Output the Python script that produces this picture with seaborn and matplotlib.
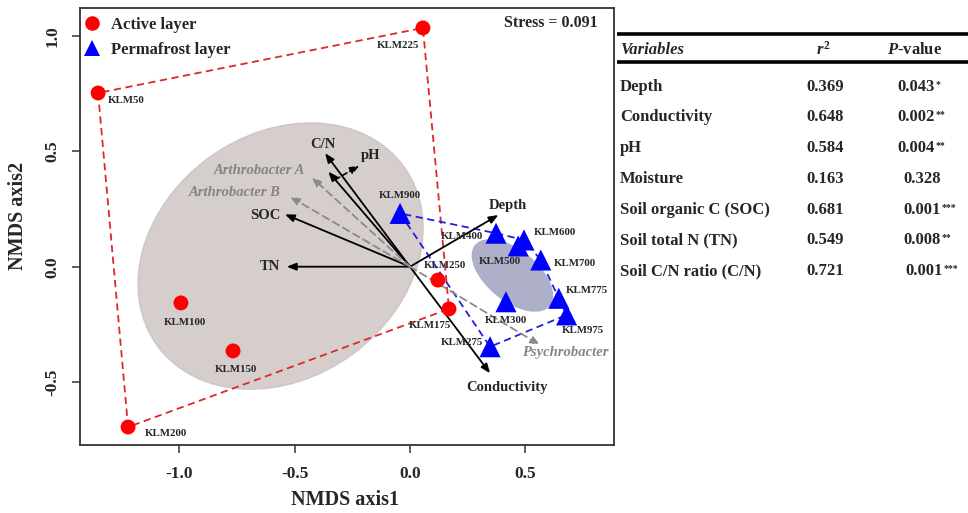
import numpy as np
import pandas as pd
import matplotlib
matplotlib.use('Agg')
import matplotlib.pyplot as plt
import seaborn as sns
from matplotlib.patches import Ellipse
from matplotlib.lines import Line2D
from matplotlib.transforms import offset_copy

# ---------------- data ----------------
active_sites = ['KLM50', 'KLM100', 'KLM150', 'KLM175', 'KLM200', 'KLM225', 'KLM250']
active_x = [-1.352, -0.993, -0.767, 0.169, -1.222, 0.056, 0.121]
active_y = [0.753, -0.157, -0.365, -0.183, -0.695, 1.035, -0.058]

perma_sites = ['KLM275', 'KLM300', 'KLM400', 'KLM500', 'KLM600', 'KLM700', 'KLM775', 'KLM900', 'KLM975']
perma_x = [0.347, 0.416, 0.373, 0.469, 0.494, 0.567, 0.645, -0.043, 0.679]
perma_y = [-0.347, -0.152, 0.145, 0.090, 0.116, 0.029, -0.137, 0.231, -0.209]

env_vars = ['Depth', 'Conductivity', 'pH', 'SOC', 'TN', 'C/N']
env_x = [0.383, 0.347, -0.354, -0.542, -0.534, -0.368]
env_y = [0.224, -0.462, 0.412, 0.227, 0.000, 0.492]

taxa = ['Arthrobacter A', 'Arthrobacter B', 'Psychrobacter']
taxa_x = [-0.426, -0.520, 0.563]
taxa_y = [0.387, 0.303, -0.339]

# clustering ellipses: centre x, centre y, width, height, angle
ellipse_active = [-0.561, 0.046, 1.320, 1.054, 36]
ellipse_perma = [0.444, -0.038, 0.418, 0.222, -39]

stress_value = 0.091

table_vars = ['Depth', 'Conductivity', 'pH', 'Moisture', 'Soil organic C (SOC)',
              'Soil total N (TN)', 'Soil C/N ratio (C/N)']
table_r2 = ['0.369', '0.648', '0.584', '0.163', '0.681', '0.549', '0.721']
table_p = ['0.043', '0.002', '0.004', '0.328', '0.001', '0.008', '0.001']
table_sig = ['*', '**', '**', '', '***', '**', '***']

# ---------------- layout (pixel offsets for labels) ----------------
pt_label_off = {
    'KLM225': (-25, -17.7), 'KLM50': (28, -8), 'KLM100': (4, -19.7), 'KLM150': (2.7, -18.3),
    'KLM200': (37.7, -6.3), 'KLM175': (-19, -17), 'KLM250': (7, 14.3), 'KLM900': (-0.7, 17.6),
    'KLM400': (-34.3, -3.4), 'KLM600': (31, 7.3), 'KLM500': (-18.7, -15.7), 'KLM700': (34.3, -3.3),
    'KLM775': (28.4, 8.3), 'KLM975': (16.6, -16), 'KLM300': (0, -19), 'KLM275': (-28.3, 4)}
env_label_off = {'Depth': (10, 10), 'Conductivity': (16.7, -14), 'pH': (42.7, 16),
                 'SOC': (-19.3, -1), 'TN': (-16.7, 0), 'C/N': (-2.3, 9)}
taxa_label_off = {'Arthrobacter A': (-52.4, 6.6), 'Arthrobacter B': (-55, 4),
                  'Psychrobacter': (25, -8)}

sns.set_theme(style='white')
plt.rcParams['font.family'] = ['Liberation Serif', 'DejaVu Serif']
plt.rcParams['font.weight'] = 'bold'
plt.rcParams['mathtext.fontset'] = 'custom'
plt.rcParams['mathtext.rm'] = 'Liberation Serif:bold'
plt.rcParams['mathtext.it'] = 'Liberation Serif:italic:bold'
plt.rcParams['mathtext.bf'] = 'Liberation Serif:bold'

W, H = 968, 513
fig = plt.figure(figsize=(W / 100, H / 100), dpi=100)
L, R, T, B = 80, 614, 8, 445
ax = fig.add_axes([L / W, (H - B) / H, (R - L) / W, (B - T) / H])
ax.set_xlim(-1.4304, 0.8843)
ax.set_ylim(-0.7729, 1.1214)


def hull(xs, ys):
    pts = sorted(zip(xs, ys))

    def cross(o, a, b):
        return (a[0] - o[0]) * (b[1] - o[1]) - (a[1] - o[1]) * (b[0] - o[0])
    lower, upper = [], []
    for p in pts:
        while len(lower) >= 2 and cross(lower[-2], lower[-1], p) <= 0:
            lower.pop()
        lower.append(p)
    for p in reversed(pts):
        while len(upper) >= 2 and cross(upper[-2], upper[-1], p) <= 0:
            upper.pop()
        upper.append(p)
    h = lower[:-1] + upper[:-1]
    h.append(h[0])
    return [p[0] for p in h], [p[1] for p in h]


# ellipses
e1 = Ellipse((ellipse_active[0], ellipse_active[1]), ellipse_active[2], ellipse_active[3],
             angle=ellipse_active[4], facecolor='#d6cdcd', edgecolor='#d0c8c8', lw=1.2, zorder=1)
e2 = Ellipse((ellipse_perma[0], ellipse_perma[1]), ellipse_perma[2], ellipse_perma[3],
             angle=ellipse_perma[4], facecolor='#aeafc8', edgecolor='none', zorder=1)
ax.add_patch(e1)
ax.add_patch(e2)

# hulls
hx, hy = hull(active_x, active_y)
ax.plot(hx, hy, ls=(0, (4, 2.5)), color='#e02828', lw=1.3, zorder=2)
hx, hy = hull(perma_x, perma_y)
ax.plot(hx, hy, ls=(0, (4, 2.5)), color='#2020e0', lw=1.3, zorder=2)

# env arrows
for name, x, y in zip(env_vars, env_x, env_y):
    ax.annotate('', xy=(x, y), xytext=(0, 0),
                arrowprops=dict(arrowstyle='-|>,head_length=0.55,head_width=0.22',
                                color='black', lw=1.3, shrinkA=0, shrinkB=0,
                                mutation_scale=10), zorder=3)
    dx, dy = env_label_off[name]
    ax.annotate(name, xy=(x, y), xytext=(dx, dy), textcoords='offset pixels',
                ha='center', va='center', fontsize=10.5, fontweight='bold', zorder=5)

# pH leader arrow
i = env_vars.index('pH')
tip = (env_x[i], env_y[i])
ax.annotate('', xy=tip, xycoords=offset_copy(ax.transData, fig=fig, x=31, y=6, units='dots'),
            xytext=tip, textcoords=offset_copy(ax.transData, fig=fig, x=7, y=-8, units='dots'),
            arrowprops=dict(arrowstyle='-|>,head_length=0.55,head_width=0.22', color='black',
                            lw=1.2, ls=(0, (3, 2)), shrinkA=0, shrinkB=0, mutation_scale=10),
            zorder=3)

# taxa arrows
for name, x, y in zip(taxa, taxa_x, taxa_y):
    ax.annotate('', xy=(x, y), xytext=(0, 0),
                arrowprops=dict(arrowstyle='-|>,head_length=0.55,head_width=0.22',
                                color='#8a8a8a', lw=1.3, ls=(0, (4, 2.5)), shrinkA=0, shrinkB=0,
                                mutation_scale=10), zorder=3)
    dx, dy = taxa_label_off[name]
    ax.annotate(name, xy=(x, y), xytext=(dx, dy), textcoords='offset pixels',
                ha='center', va='center', fontsize=10.5, fontweight='bold', style='italic',
                color='#858585', zorder=5)

# points
sns.scatterplot(x=active_x, y=active_y, color='#ff0000', marker='o', s=115,
                edgecolor='none', linewidth=0, ax=ax, zorder=4)
sns.scatterplot(x=perma_x, y=perma_y, color='#0000ff', marker='^', s=230,
                edgecolor='none', linewidth=0, ax=ax, zorder=4)

for name, x, y in list(zip(active_sites, active_x, active_y)) + list(zip(perma_sites, perma_x, perma_y)):
    dx, dy = pt_label_off[name]
    ax.annotate(name, xy=(x, y), xytext=(dx, dy), textcoords='offset pixels',
                ha='center', va='center', fontsize=7.8, fontweight='bold', zorder=5)

# legend
handles = [Line2D([], [], marker='o', color='#ff0000', ls='none', markersize=10.5,
                  markeredgewidth=0, label='Active layer'),
           Line2D([], [], marker='^', color='#0000ff', ls='none', markersize=11,
                  markeredgewidth=0, label='Permafrost layer')]
ax.legend(handles=handles, loc='upper left', bbox_to_anchor=(-0.006, 0.994), frameon=False,
          borderaxespad=0, borderpad=0.4, handlelength=1.0, handletextpad=0.65,
          labelspacing=0.52, prop=dict(family='Liberation Serif', weight='bold', size=12))

ax.text(0.970, 0.9657, f'Stress = {stress_value:.3f}', transform=ax.transAxes, ha='right',
        va='center', fontsize=11.5, fontweight='bold')

# axes styling
ax.set_xticks([-1.0, -0.5, 0.0, 0.5])
ax.set_yticks([-0.5, 0.0, 0.5, 1.0])
ax.set_xticklabels(['-1.0', '-0.5', '0.0', '0.5'], fontsize=12.5, fontweight='bold')
ax.set_yticklabels(['-0.5', '0.0', '0.5', '1.0'], fontsize=12.5, fontweight='bold',
                   rotation=90, va='center')
ax.tick_params(axis='both', direction='out', length=6, width=1.1, color='#333333',
               bottom=True, left=True, pad=8)
ax.tick_params(axis='x', pad=9)
for s in ax.spines.values():
    s.set_color('#333333')
    s.set_linewidth(1.3)
ax.set_xlabel('NMDS axis1', fontsize=14.5, fontweight='bold')
ax.set_ylabel('NMDS axis2', fontsize=14.5, fontweight='bold')
ax.xaxis.set_label_coords(0.496, -0.103)
ax.yaxis.set_label_coords(-0.097, 0.524)

# ---------------- table ----------------
tax = fig.add_axes([R / W, 0, (W - R) / W, 1])
tax.set_xlim(R, W)
tax.set_ylim(H, 0)
tax.axis('off')
tax.plot([617, W], [34, 34], color='black', lw=2.6, solid_capstyle='butt')
tax.plot([617, W], [62, 62], color='black', lw=2.6, solid_capstyle='butt')
tfs = 12
tax.text(620, 50, 'Variables', fontsize=tfs, fontweight='bold', style='italic', ha='left', va='center')
tax.text(823, 50, r'$r^2$', fontsize=tfs, ha='center', va='center')
tax.text(915, 50, r'$P$-value', fontsize=tfs, fontweight='bold', ha='center', va='center')
row_y = [87, 117, 148, 179, 210, 240, 271]
p_x = [897, 897, 897, 903, 903, 903, 905]
for k in range(len(table_vars)):
    tax.text(620, row_y[k], table_vars[k], fontsize=tfs, fontweight='bold', ha='left', va='center')
    tax.text(825, row_y[k], table_r2[k], fontsize=tfs, fontweight='bold', ha='center', va='center')
    t = tax.text(p_x[k], row_y[k], table_p[k], fontsize=tfs, fontweight='bold', ha='left', va='center')
    if table_sig[k]:
        tax.annotate(table_sig[k], xy=(1, 0.95), xycoords=t, xytext=(1, 0),
                     textcoords='offset points', ha='left', va='top', fontsize=7,
                     fontweight='bold')

fig.savefig('out.png', dpi=100)
